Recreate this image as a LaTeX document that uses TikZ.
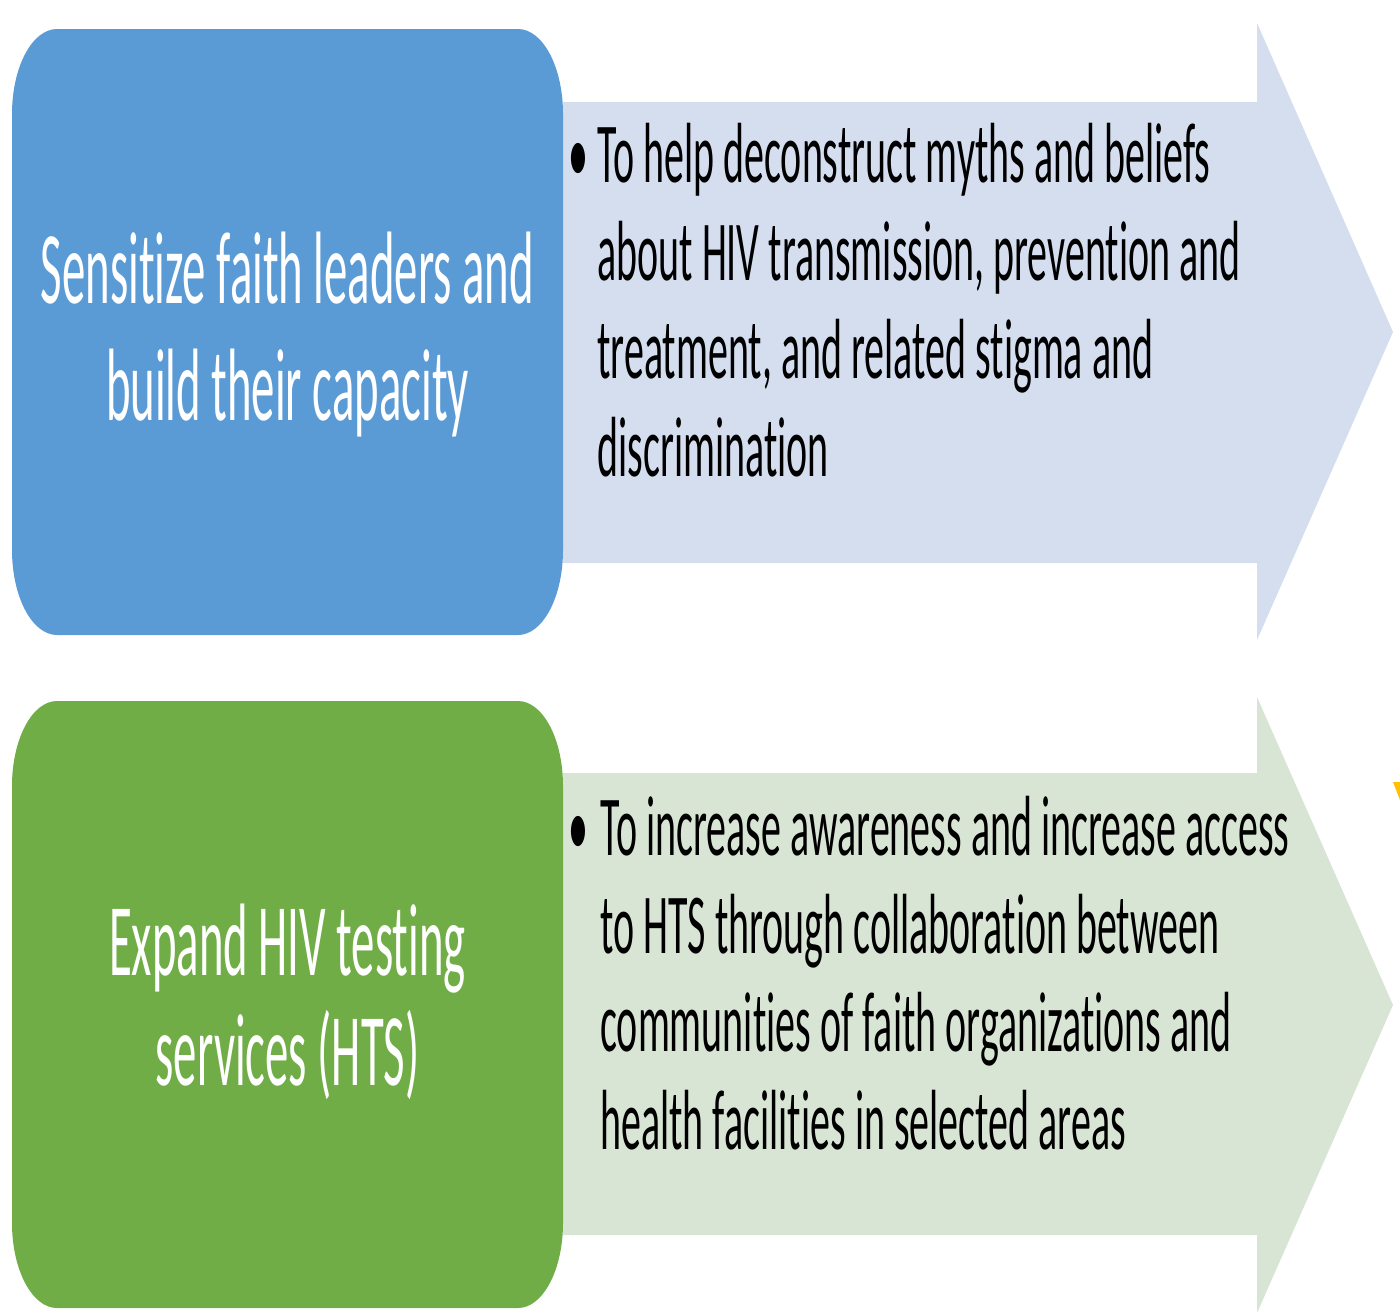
\documentclass[tikz,border=0pt]{standalone}
\usepackage{fontspec}
\newfontfamily\boxfont[FakeStretch=0.454, Ligatures=NoCommon]{Carlito}
\newfontfamily\aimfont[FakeStretch=0.468, Ligatures=NoCommon]{Carlito}
\definecolor{boxblue}{HTML}{5B9BD5}
\definecolor{arrowblue}{HTML}{D4DEEF}
\definecolor{boxgreen}{HTML}{70AD47}
\definecolor{arrowgreen}{HTML}{D8E4D4}
\definecolor{markorange}{HTML}{FFC000}

\begin{document}
\begin{tikzpicture}[
  x=0.5pt, y=-0.5pt,
  boxtext/.style={text=white, inner sep=0pt, anchor=base,
    font=\boxfont\fontsize{51.5}{58}\selectfont},
  aimtext/.style={text=black, inner sep=0pt, anchor=base west,
    font=\aimfont\fontsize{42.7}{49}\selectfont}
]
\useasboundingbox (0,0) rectangle (1400,1312);

% arrows behind the boxes
\fill[arrowblue] (563,102) -- (1257,102) -- (1257,23) -- (1393,332)
  -- (1257,640) -- (1257,563) -- (563,563) -- cycle;
\fill[arrowgreen] (563,773) -- (1257,773) -- (1257,697) -- (1393,1005)
  -- (1257,1313) -- (1257,1235) -- (563,1235) -- cycle;
\fill[markorange] (1393,782) -- (1400,782) -- (1400,800) -- cycle;

% boxes, corners squashed
\foreach \ya/\yb/\col in {29/635/boxblue, 701/1308/boxgreen} {
  \fill[\col] (57,\ya) -- (518,\ya)
    arc[start angle=-90, end angle=0, x radius=45, y radius=85]
    -- (563,\yb-85)
    arc[start angle=0, end angle=90, x radius=45, y radius=85]
    -- (57,\yb)
    arc[start angle=90, end angle=180, x radius=45, y radius=85]
    -- (12,\ya+85)
    arc[start angle=180, end angle=270, x radius=45, y radius=85]
    -- cycle;
}

\node[boxtext] (lead1) at (287.5,303) {Sensitize faith leaders and};
\node[boxtext] (lead2) at (287.5,420) {build their capacity};
\node[boxtext] (hts1) at (287.5,975) {Expand HIV testing};
\node[boxtext] (hts2) at (287.5,1085) {services (HTS)};

\node[aimtext] (dot1) at (568,182) {•};
\foreach \t [count=\i] in {To help deconstruct myths and beliefs,
    {about HIV transmission, prevention and},
    {treatment, and related stigma and}, discrimination} {
  \node[aimtext] (myth\i) at (597,{182+98.3*(\i-1)}) {\t};
}

\node[aimtext] (dot2) at (568,855) {•};
\foreach \t [count=\i] in {To increase awareness and increase access,
    to HTS through collaboration between,
    communities of faith organizations and,
    health facilities in selected areas} {
  \node[aimtext] (reach\i) at (600,{855+98.3*(\i-1)}) {\t};
}
\end{tikzpicture}
\end{document}
